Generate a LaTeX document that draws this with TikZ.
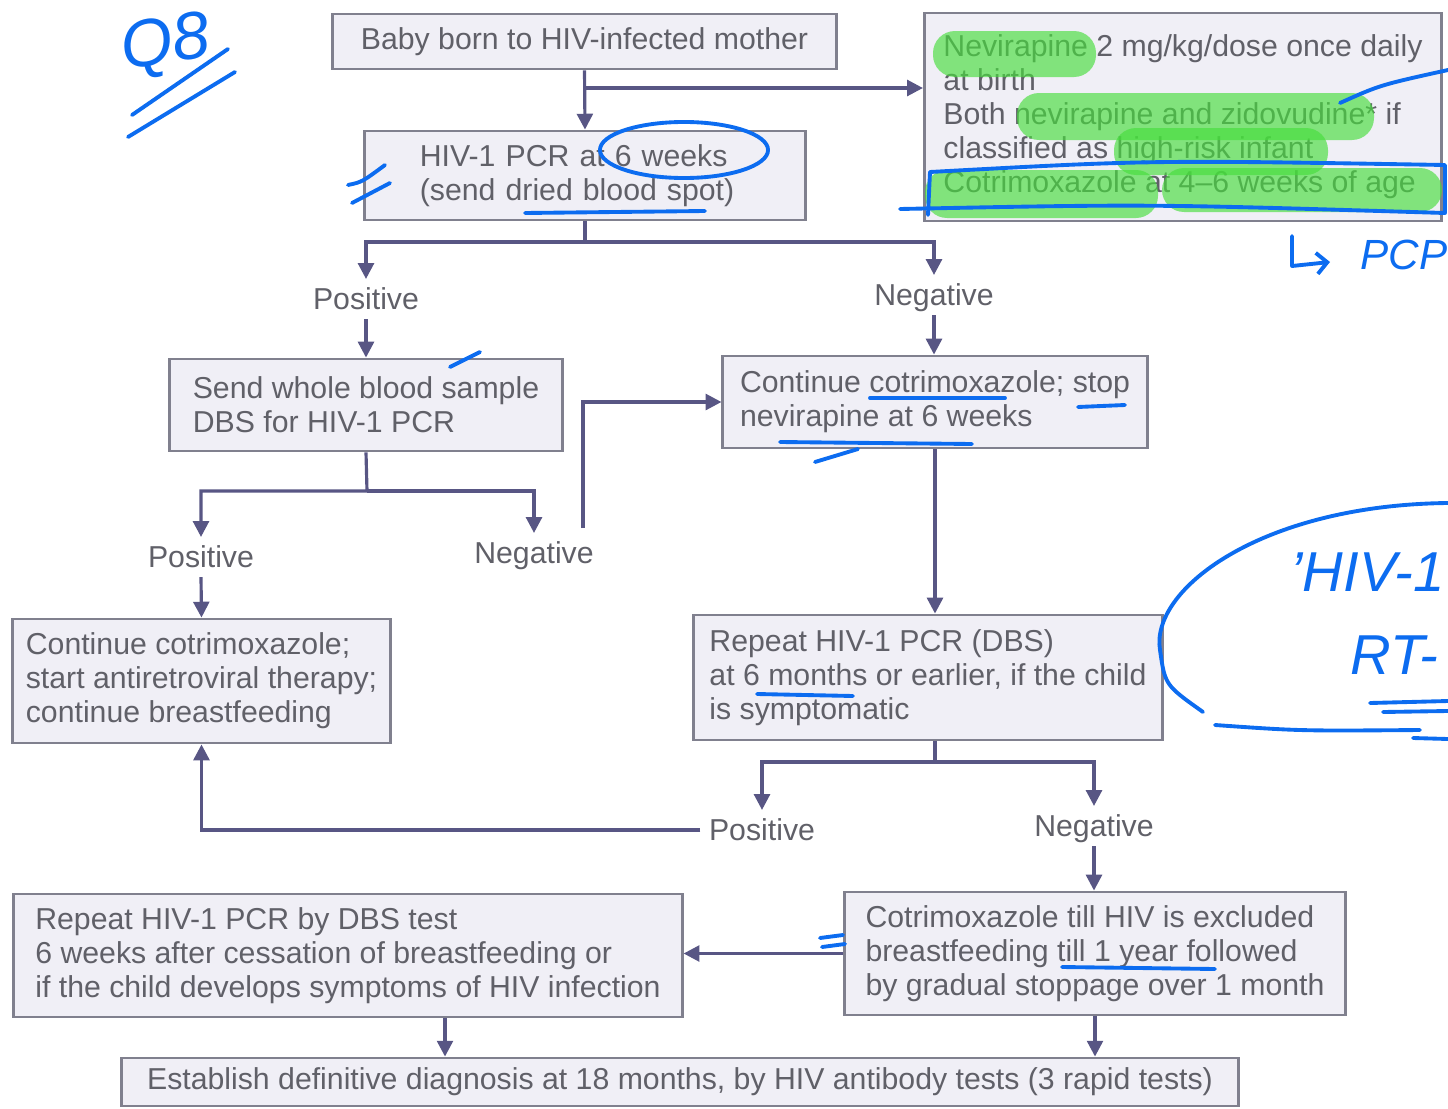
\documentclass[tikz,border=0pt]{standalone}
\usepackage{fontspec}
\setmainfont{Liberation Sans}
\usetikzlibrary{arrows.meta, calc}
\definecolor{boxfill}{RGB}{240,239,246}
\definecolor{boxline}{RGB}{128,128,142}
\definecolor{flowline}{RGB}{88,86,132}
\definecolor{txtgray}{RGB}{96,96,104}
\definecolor{hlgreen}{RGB}{70,222,60}
\definecolor{penblue}{RGB}{12,108,240}
\tikzset{>={Triangle[width=4.5pt,length=4.5pt]}}

\begin{document}
\begin{tikzpicture}[x=0.01cm, y=-0.01cm,
  font=\fontsize{8.6}{9.65}\selectfont,
  box/.style={draw=boxline, line width=0.8pt, fill=boxfill, text=txtgray, inner sep=0pt, align=left},
  lbl/.style={text=txtgray, inner sep=0pt, outer sep=2.5pt, text height=6.2pt, text depth=0.2pt},
  flow/.style={draw=flowline, line width=0.9pt, ->},
  hl/.style={fill=hlgreen, opacity=0.65, rounded corners=0.22cm},
  pen/.style={draw=penblue, line width=1.1pt, line cap=round, line join=round},
  scrawl/.style={text=penblue, font=\fontsize{16}{16}\selectfont\itshape}]
\useasboundingbox (0,0) rectangle (1448,1109);

% boxes
\node[box, align=center, minimum width=5.03cm, minimum height=0.55cm] (born) at (584.5,41.5) {Baby born to HIV-infected mother};
\node[box, minimum width=5.17cm, minimum height=2.08cm] (proph) at (1183,117)
  {Nevirapine 2 mg/kg/dose once daily\\ at birth\\ Both nevirapine and zidovudine* if\\ classified as high-risk infant\\ Cotrimoxazole at 4--6 weeks of age};
\node[box, minimum width=4.40cm, minimum height=0.89cm, inner xsep=0.55cm, text width=3.30cm] (pcr6) at (585,175.5)
  {HIV-1 PCR at 6 weeks\\ (send dried blood spot)};
\node[box, minimum width=3.92cm, minimum height=0.92cm] (whole) at (366,405)
  {Send whole blood sample\\ DBS for HIV-1 PCR};
\node[box, minimum width=4.24cm, minimum height=0.92cm] (stopnvp) at (935,402)
  {Continue cotrimoxazole; stop\\ nevirapine at 6 weeks};
\node[box, minimum width=3.77cm, minimum height=1.24cm] (art) at (201.5,681)
  {Continue cotrimoxazole;\\ start antiretroviral therapy;\\ continue breastfeeding};
\node[box, minimum width=4.68cm, minimum height=1.25cm] (pcr6m) at (928,677.5)
  {Repeat HIV-1 PCR (DBS)\\ at 6 months or earlier, if the child\\ is symptomatic};
\node[box, minimum width=5.00cm, minimum height=1.23cm] (cotri) at (1095,953.5)
  {Cotrimoxazole till HIV is excluded\\ breastfeeding till 1 year followed\\ by gradual stoppage over 1 month};
\node[box, minimum width=6.68cm, minimum height=1.23cm] (repeat) at (348,955.5)
  {Repeat HIV-1 PCR by DBS test\\ 6 weeks after cessation of breastfeeding or\\ if the child develops symptoms of HIV infection};
\node[box, align=center, minimum width=11.16cm, minimum height=0.48cm] (final) at (680,1082)
  {Establish definitive diagnosis at 18 months, by HIV antibody tests (3 rapid tests)};

% results
\node[lbl] (pos1) at (366,299) {Positive};
\node[lbl] (neg1) at (934,295) {Negative};
\node[lbl] (pos2) at (201,557) {Positive};
\node[lbl] (neg2) at (534,553) {Negative};
\node[lbl] (pos3) at (762,830) {Positive};
\node[lbl] (neg3) at (1094,826) {Negative};

% connectors
\coordinate (split0) at (585,88);
\coordinate (split1) at (585,242);
\coordinate (split2) at (367,491);
\coordinate (split3) at (935,762);
\coordinate (back1) at (583,528);
\path (repeat.south) ++(97,0) coordinate (down1);

\draw[flow] (born.south) -- (pcr6.north);
\draw[flow] (split0) -- (split0 -| proph.west);
\draw[flow] (pcr6.south) -- (split1) -| (pos1.north);
\draw[flow] (split1) -| (neg1.north);
\draw[flow] (pos1.south) -- (whole.north);
\draw[flow] (neg1.south) -- (neg1.south |- stopnvp.north);
\draw[flow] (whole.south) -- (split2) -| (pos2.north);
\draw[flow] (split2) -| (neg2.north);
\draw[flow] (back1) |- (stopnvp.west);
\draw[flow] (pos2.south) -- (art.north);
\draw[flow] (stopnvp.south) -- (stopnvp.south |- pcr6m.north);
\draw[flow] (stopnvp.south |- pcr6m.south) -- (split3) -| (pos3.north);
\draw[flow] (split3) -| (neg3.north);
\draw[flow] (pos3.west) -| (art.south);
\draw[flow] (neg3.south) -- (neg3.south |- cotri.north);
\draw[flow] (cotri.west) -- (cotri.west -| repeat.east);
\draw[flow] (down1) -- (down1 |- final.north);
\draw[flow] (cotri.south) -- (cotri.south |- final.north);

% green marker
\fill[hl] (933,31) rectangle (1096,77);
\fill[hl] (1017,93) rectangle (1374,140);
\fill[hl] (1114,128) rectangle (1328,175);
\fill[hl] (925,170) rectangle (1158,218);
\fill[hl] (1162,168) rectangle (1442,212);

% pen notes
\node[scrawl, font=\fontsize{19}{19}\selectfont\itshape, rotate=8] (qnum) at (166,46) {Q8};
\draw[pen] (132,115) -- (228,49);
\draw[pen] (128,137) -- (235,72);
\draw[pen] (684,150) ellipse [x radius=0.84cm, y radius=0.28cm];
\draw[pen] (525,213) -- (705,211);
\draw[pen] (348,185) .. controls (362,182) .. (385,165);
\draw[pen] (352,203) -- (390,183);
\draw[pen] (900,209) .. controls (1150,204) .. (1445,213) -- (1445,165) .. controls (1150,160) .. (930,172) -- (928,215);
\draw[pen] (1340,103) .. controls (1380,85) .. (1448,70);
\draw[pen, -{Straight Barb[length=3pt]}] (1292,236) -- (1292,266) -- (1330,262);
\node[scrawl, font=\fontsize{12}{12}\selectfont\itshape] (pcp) at (1404,255) {PCP};
\draw[pen] (450,367) -- (480,352);
\draw[pen] (870,398) -- (1005,398);
\draw[pen] (1078,407) -- (1125,405);
\draw[pen] (780,442) -- (972,444);
\draw[pen] (815,462) -- (858,449);
\draw[pen] (757,694) -- (853,696);
\draw[pen] (1062,967) -- (1215,969);
\draw[pen] (820,938) -- (843,935);
\draw[pen] (822,947) -- (845,944);
\draw[pen] (1448,503) .. controls (1260,505) and (1150,590) .. (1160,650) .. controls (1165,685) .. (1203,712);
\draw[pen] (1215,725) .. controls (1300,731) .. (1420,730);
\draw[pen] (1413,738) -- (1448,739);
\node[scrawl, anchor=west] (hivnote) at (1278,572) {'HIV-1};
\node[scrawl, anchor=west] (rtnote) at (1338,655) {RT-};
\draw[pen] (1370,703) -- (1448,701);
\draw[pen] (1383,712) -- (1448,711);
\end{tikzpicture}
\end{document}
